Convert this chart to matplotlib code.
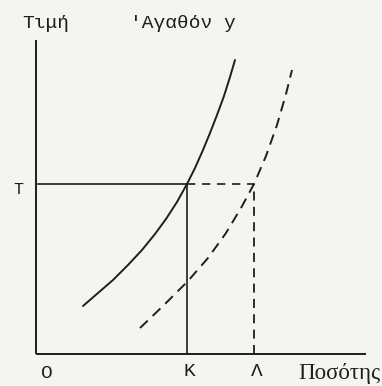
#!/usr/bin/env python3
# -*- coding: utf-8 -*-

"""
Διάγραμμα προσφοράς αγαθού y: μετατόπιση καμπύλης
(τιμή T, ποσότητες K και Λ).
"""

import matplotlib
matplotlib.use("Agg")
import matplotlib.pyplot as plt

# ============================
# Δεδομένα (ποσότητα, τιμή) σε αυθαίρετες μονάδες
# ============================
T_PRICE = 170
K_QTY = 151
L_QTY = 218

# αρχική καμπύλη (συνεχής)
curve1_q = [47, 62, 77, 92, 106, 119, 130, 141, 151, 159, 167, 174, 181,
            188, 194, 199]
curve1_p = [48, 61, 74, 89, 104, 120, 135, 152, 170, 186, 204, 221, 239,
            258, 277, 294]

# νέα καμπύλη (διακεκομμένη)
curve2_q = [104, 128, 152, 172, 190, 205, 218, 230, 241, 250, 256]
curve2_p = [26, 49, 73, 96, 121, 146, 170, 198, 229, 260, 284]

AXIS_Q_MAX = 330
AXIS_P_MAX = 314

INK = "#1e1e1e"
PAPER = "#f4f4f1"
MONO = "Liberation Mono"
SERIF = "Liberation Serif"


def main():
    fig = plt.figure(figsize=(3.82, 3.86), dpi=100, facecolor=PAPER)
    ax = fig.add_axes([0, 0, 1, 1])
    ax.set_facecolor(PAPER)
    ax.set_xlim(-36, 346)
    ax.set_ylim(-32, 354)
    ax.axis("off")

    # άξονες
    ax.plot([0, 0], [0, AXIS_P_MAX], color=INK, lw=1.4, solid_capstyle="butt")
    ax.plot([0, AXIS_Q_MAX], [0, 0], color=INK, lw=1.4, solid_capstyle="butt")

    # οριζόντια στο T: συνεχής ως K, διακεκομμένη ως Λ
    ax.plot([2, K_QTY], [T_PRICE, T_PRICE], color=INK, lw=1.2)
    ax.plot([K_QTY, L_QTY], [T_PRICE, T_PRICE], color=INK, lw=1.2,
            dashes=(5, 4))

    # κατακόρυφες στο K και στο Λ
    ax.plot([K_QTY, K_QTY], [0, T_PRICE], color=INK, lw=1.2)
    ax.plot([L_QTY, L_QTY], [0, T_PRICE], color=INK, lw=1.3,
            dashes=(5, 3.5))

    # καμπύλες
    ax.plot(curve1_q, curve1_p, color=INK, lw=1.4, solid_capstyle="round",
            solid_joinstyle="round")
    ax.plot(curve2_q, curve2_p, color=INK, lw=1.4, dashes=(5.5, 3.5),
            dash_joinstyle="round")

    # ετικέτες
    kw = dict(color=INK, ha="center", va="center")
    ax.text(10, 330, "Τιμή", family=MONO, fontsize=14, **kw)
    ax.text(147, 330, "'Αγαθόν y", family=MONO, fontsize=14, **kw)
    ax.text(-18, 164, "T", family=MONO, fontsize=12, **kw)
    ax.text(11, -19, "O", family=MONO, fontsize=14, **kw)
    ax.text(K_QTY + 2, -18, "K", family=MONO, fontsize=14, **kw)
    ax.text(L_QTY + 3, -18, "Λ", family=MONO, fontsize=14, **kw)
    ax.text(303, -19, "Ποσότης", family=SERIF, fontsize=16.5, **kw)

    fig.savefig("out.png", dpi=100, facecolor=PAPER)
    plt.close(fig)


if __name__ == "__main__":
    main()
